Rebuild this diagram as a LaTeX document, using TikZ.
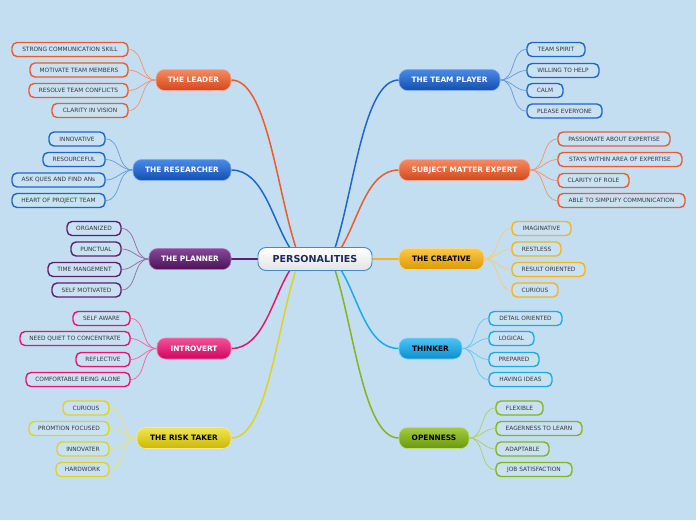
\documentclass[tikz,border=0pt]{standalone}
\usepackage{fontspec}
\setmainfont{DejaVu Sans}
\definecolor{bg}{HTML}{C3DEF1}
\definecolor{leafbg}{HTML}{C8E1F3}
\definecolor{txt}{HTML}{383838}
\definecolor{cOr}{HTML}{EE5A2C}
\definecolor{cOrT}{HTML}{F58A62}
\definecolor{cOrB}{HTML}{D44818}
\definecolor{cBl}{HTML}{1F66CC}
\definecolor{cBlT}{HTML}{4A8AE6}
\definecolor{cBlB}{HTML}{124FB0}
\definecolor{cPu}{HTML}{5E206E}
\definecolor{cPuT}{HTML}{86489A}
\definecolor{cPuB}{HTML}{4A1258}
\definecolor{cPi}{HTML}{EC1270}
\definecolor{cPiT}{HTML}{F4509A}
\definecolor{cPiB}{HTML}{D0045C}
\definecolor{cYe}{HTML}{E2D21C}
\definecolor{cYeT}{HTML}{F2E650}
\definecolor{cYeB}{HTML}{CAB806}
\definecolor{cGo}{HTML}{F4B41E}
\definecolor{cGoT}{HTML}{FAC84A}
\definecolor{cGoB}{HTML}{DE9A02}
\definecolor{cSk}{HTML}{1CAAE8}
\definecolor{cSkT}{HTML}{4CC4F4}
\definecolor{cSkB}{HTML}{0A8ED0}
\definecolor{cGr}{HTML}{84B41E}
\definecolor{cGrT}{HTML}{A2CC40}
\definecolor{cGrB}{HTML}{6A980C}
\definecolor{ctrtxt}{HTML}{1B2B5B}
\definecolor{ctrborder}{HTML}{3C8CD0}
\pgfdeclarelayer{back}
\pgfdeclarelayer{lines}
\pgfsetlayers{back,lines,main}
\tikzset{
  mainbox/.style={rounded corners=8.5pt, minimum height=21pt, inner sep=0pt,
    font=\fontsize{7.4}{8}\selectfont\bfseries, line width=0.6pt},
  leafbox/.style={rounded corners=5pt, minimum height=14pt, inner sep=0pt,
    line width=1.4pt, fill=leafbg, text=txt, font=\fontsize{5.85}{6}\selectfont},
  bigline/.style={line width=1.5pt},
  leafline/.style={line width=0.75pt},
}
\newcommand{\leaf}[6]{%
  \node[leafbox, draw=#5, minimum width={(#3-#2)*1pt}] (#1) at ({(#2+#3)/2},#4) {#6};}
\newcommand{\mainn}[8]{%
  \node[mainbox, top color=#5T, bottom color=#5B, draw=#5T!70!white, text=#7, minimum width={(#3-#2)*1pt}] (#1) at ({(#2+#3)/2},#4) {#8};}
\begin{document}
\begin{tikzpicture}[x=1pt,y=-1pt]
\begin{pgfonlayer}{back}
\fill[bg] (0,0) rectangle (696,520);
\end{pgfonlayer}
\useasboundingbox (0,0) rectangle (696,520);

% center
\node[rounded corners=8pt, minimum width=114pt, minimum height=23pt, inner sep=0pt,
  top color=white, bottom color=gray!22!white, draw=ctrborder, line width=0.9pt,
  text=ctrtxt, font=\fontsize{9.6}{10}\selectfont\bfseries] (ctr) at (315,259) {PERSONALITIES};

% main nodes
\mainn{leader}{156}{231}{80}{cOr}{}{white}{THE LEADER}
\mainn{research}{133}{231}{170}{cBl}{}{white}{THE RESEARCHER}
\mainn{planner}{149}{231}{259}{cPu}{}{white}{THE PLANNER}
\mainn{introvert}{157}{231}{348.5}{cPi}{}{white}{INTROVERT}
\mainn{risk}{137}{231}{438}{cYe}{}{black}{THE RISK TAKER}
\mainn{team}{399}{500}{80}{cBl}{}{white}{THE TEAM PLAYER}
\mainn{sme}{399}{530}{170}{cOr}{}{white}{SUBJECT MATTER EXPERT}
\mainn{creative}{399}{484}{259}{cGo}{}{black}{THE CREATIVE}
\mainn{thinker}{399}{462}{348.5}{cSk}{}{black}{THINKER}
\mainn{open}{399}{469}{438}{cGr}{}{black}{OPENNESS}

% leaves left
\leaf{l1}{12}{128}{49.5}{cOr}{STRONG COMMUNICATION SKILL}
\leaf{l2}{30}{128}{70}{cOr}{MOTIVATE TEAM MEMBERS}
\leaf{l3}{29}{128}{90.5}{cOr}{RESOLVE TEAM CONFLICTS}
\leaf{l4}{52}{128}{110.5}{cOr}{CLARITY IN VISION}
\leaf{r1}{49}{105}{139}{cBl}{INNOVATIVE}
\leaf{r2}{43}{105}{159.5}{cBl}{RESOURCEFUL}
\leaf{r3}{12}{105}{180}{cBl}{ASK QUES AND FIND ANs}
\leaf{r4}{12}{105}{200.5}{cBl}{HEART OF PROJECT TEAM}
\leaf{p1}{67}{121}{228.5}{cPu}{ORGANIZED}
\leaf{p2}{71}{121}{249}{cPu}{PUNCTUAL}
\leaf{p3}{48}{121}{269.5}{cPu}{TIME MANGEMENT}
\leaf{p4}{52}{121}{290}{cPu}{SELF MOTIVATED}
\leaf{i1}{73}{130}{318.5}{cPi}{SELF AWARE}
\leaf{i2}{20}{130}{338.5}{cPi}{NEED QUIET TO CONCENTRATE}
\leaf{i3}{76}{130}{359.5}{cPi}{REFLECTIVE}
\leaf{i4}{26}{130}{379.5}{cPi}{COMFORTABLE BEING ALONE}
\leaf{k1}{63}{109}{408}{cYe}{CURIOUS}
\leaf{k2}{29}{109}{428.5}{cYe}{PROMTION FOCUSED}
\leaf{k3}{57}{109}{449}{cYe}{INNOVATER}
\leaf{k4}{56}{109}{469.5}{cYe}{HARDWORK}
% leaves right
\leaf{t1}{527}{585}{49.5}{cBl}{TEAM SPIRIT}
\leaf{t2}{527}{599}{70.5}{cBl}{WILLING TO HELP}
\leaf{t3}{527}{563}{90.5}{cBl}{CALM}
\leaf{t4}{527}{602}{111}{cBl}{PLEASE EVERYONE}
\leaf{s1}{558}{670}{139}{cOr}{PASSIONATE ABOUT EXPERTISE}
\leaf{s2}{558}{682}{159.5}{cOr}{STAYS WITHIN AREA OF EXPERTISE}
\leaf{s3}{558}{629}{180.5}{cOr}{CLARITY OF ROLE}
\leaf{s4}{558}{685}{200.5}{cOr}{ABLE TO SIMPLIFY COMMUNICATION}
\leaf{c1}{512}{571}{228.5}{cGo}{IMAGINATIVE}
\leaf{c2}{512}{561}{249}{cGo}{RESTLESS}
\leaf{c3}{512}{585}{269.5}{cGo}{RESULT ORIENTED}
\leaf{c4}{512}{558}{290}{cGo}{CURIOUS}
\leaf{h1}{489}{562}{318.5}{cSk}{DETAIL ORIENTED}
\leaf{h2}{489}{534}{338.5}{cSk}{LOGICAL}
\leaf{h3}{489}{539}{359.5}{cSk}{PREPARED}
\leaf{h4}{489}{552}{379.5}{cSk}{HAVING IDEAS}
\leaf{o1}{496}{543}{408}{cGr}{FLEXIBLE}
\leaf{o2}{496}{582}{428.5}{cGr}{EAGERNESS TO LEARN}
\leaf{o3}{496}{549}{449}{cGr}{ADAPTABLE}
\leaf{o4}{496}{572}{469.5}{cGr}{JOB SATISFACTION}

% anchor coordinates on the centre node
\coordinate (aLe) at (296,248);
\coordinate (aRe) at (290,248);
\coordinate (aIn) at (290,270);
\coordinate (aRi) at (296,270);
\coordinate (aTe) at (335,248);
\coordinate (aSm) at (341,248);
\coordinate (aTh) at (341,270);
\coordinate (aOp) at (335,270);

\begin{pgfonlayer}{lines}
\draw[bigline, cOr] (leader.east) .. controls (266.8,80) and (276.5,188.5) .. (aLe);
\draw[bigline, cBl] (research.east) .. controls (263.5,170) and (272.3,220) .. (aRe);
\draw[bigline, cPu] (planner.east) -- (ctr.west);
\draw[bigline, cPi] (introvert.east) .. controls (263.5,348.5) and (272.3,298.1) .. (aIn);
\draw[bigline, cYe] (risk.east) .. controls (266.8,438) and (276.5,329.5) .. (aRi);
\draw[bigline, cBl] (team.west) .. controls (363.8,80) and (354.2,188.5) .. (aTe);
\draw[bigline, cOr] (sme.west) .. controls (367.1,170) and (358.4,220) .. (aSm);
\draw[bigline, cGo] (creative.west) -- (ctr.east);
\draw[bigline, cSk] (thinker.west) .. controls (367.1,348.5) and (358.4,298.1) .. (aTh);
\draw[bigline, cGr] (open.west) .. controls (363.8,438) and (354.2,329.5) .. (aOp);

\foreach \m/\c/\a/\b/\cc/\d in {leader/cOr/l1/l2/l3/l4, research/cBl/r1/r2/r3/r4, planner/cPu/p1/p2/p3/p4, introvert/cPi/i1/i2/i3/i4, risk/cYe/k1/k2/k3/k4}{
  \foreach \x in {\a,\b,\cc,\d}{
    \draw[leafline, \c!65!white] (\m.west) to[out=180,in=0] (\x.east);
  }
}
\foreach \m/\c/\a/\b/\cc/\d in {team/cBl/t1/t2/t3/t4, sme/cOr/s1/s2/s3/s4, creative/cGo/c1/c2/c3/c4, thinker/cSk/h1/h2/h3/h4, open/cGr/o1/o2/o3/o4}{
  \foreach \x in {\a,\b,\cc,\d}{
    \draw[leafline, \c!65!white] (\m.east) to[out=0,in=180] (\x.west);
  }
}
\end{pgfonlayer}
\end{tikzpicture}
\end{document}
